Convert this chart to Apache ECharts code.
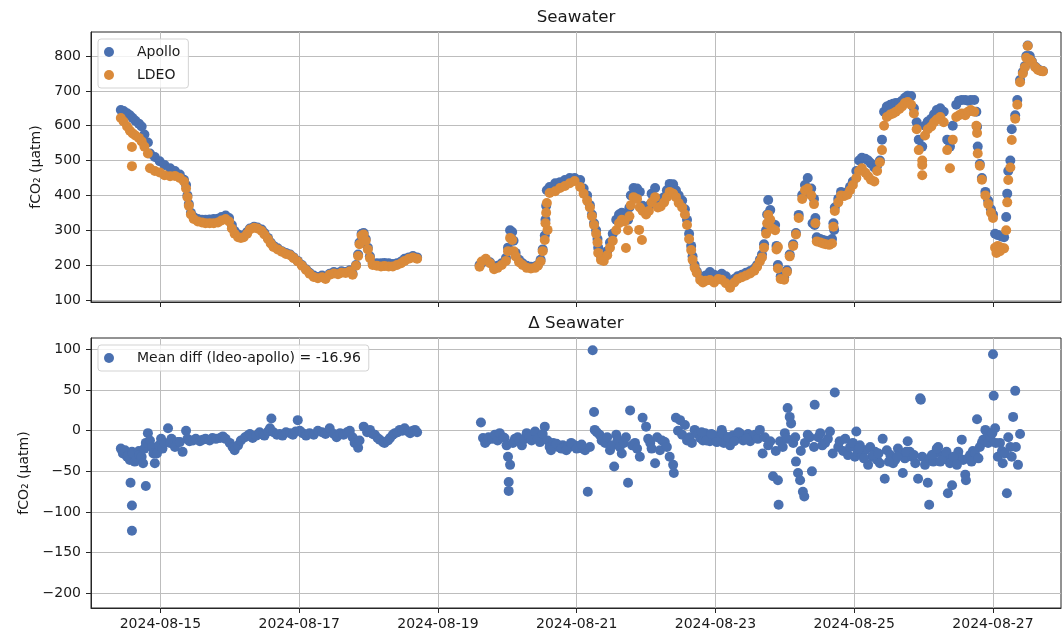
<!DOCTYPE html>
<html><head><meta charset="utf-8">
<script src="https://cdn.jsdelivr.net/npm/echarts@6/dist/echarts.min.js"></script>
<style>html,body{margin:0;padding:0;background:#fff}#c{width:1063px;height:632px}</style>
</head><body><div id="c"></div>
<script>
// time values: days since 2024-08-14 00:00 UTC
const topTimes = [
0.43,0.47,0.52,0.56,0.60,0.64,0.69,0.73,0.77,0.82,
0.85,0.92,0.99,1.06,1.14,1.21,1.28,1.34,1.37,1.39,
1.41,1.44,1.48,1.54,1.60,1.65,1.71,1.77,1.83,1.88,
1.94,1.99,2.03,2.07,2.12,2.16,2.20,2.25,2.29,2.35,
2.40,2.46,2.50,2.55,2.59,2.63,2.69,2.75,2.81,2.87,
2.92,2.98,3.04,3.10,3.15,3.21,3.27,3.33,3.38,3.44,
3.50,3.56,3.61,3.67,3.73,3.77,3.82,3.85,3.87,3.90,
3.93,3.96,3.99,4.02,4.06,4.12,4.18,4.23,4.29,4.35,
4.41,4.47,4.52,4.58,4.64,4.70,
5.60,5.63,5.69,5.75,5.81,5.86,5.92,5.98,6.01,6.04,
6.07,6.09,6.12,6.17,6.22,6.28,6.34,6.40,6.44,6.48,
6.51,6.54,6.57,6.61,6.69,6.76,6.83,6.90,6.97,7.05,
7.10,7.15,7.19,7.22,7.25,7.28,7.31,7.35,7.39,7.44,
7.48,7.52,7.57,7.61,7.65,7.69,7.74,7.78,7.82,7.87,
7.91,7.95,8.00,8.04,8.08,8.13,8.17,8.21,8.26,8.30,
8.34,8.39,8.43,8.47,8.52,8.56,8.59,8.62,8.65,8.67,
8.70,8.73,8.78,8.82,8.86,8.92,8.98,9.04,9.09,9.15,
9.21,9.27,9.32,9.38,9.44,9.50,9.56,9.60,9.64,9.67,
9.70,9.73,9.76,9.79,9.81,9.86,9.90,9.94,9.99,10.03,
10.07,10.12,10.16,10.20,10.25,10.29,10.33,10.38,10.42,10.46,
10.51,10.55,10.59,10.64,10.68,10.72,10.77,10.81,10.85,10.90,
10.94,10.98,11.03,11.07,11.11,11.16,11.20,11.24,11.29,11.33,
11.37,11.40,11.43,11.47,11.52,11.56,11.60,11.65,11.69,11.73,
11.77,11.82,11.86,11.90,11.93,11.98,12.02,12.06,12.11,12.15,
12.19,12.24,12.29,12.34,12.38,12.42,12.47,12.51,12.55,12.60,
12.64,12.68,12.73,12.76,12.77,12.78,12.81,12.84,12.89,12.93,
12.97,13.00,13.03,13.07,13.12,13.16,13.19,13.22,13.25,13.27,
13.32,13.35,13.39,13.43,13.46,13.50,13.53,13.56,13.61,13.65,
13.69,13.72
];
const apolloValues = [
645,642,636,630,622,614,606,598,575,552,
520,510,498,487,478,470,460,445,430,400,
375,350,338,332,330,330,331,332,333,338,
342,335,315,298,288,284,285,295,305,310,
308,302,292,278,265,255,248,240,235,230,
222,212,200,188,178,170,166,170,165,175,
180,178,182,180,185,175,200,230,265,290,
292,275,250,225,205,205,205,206,205,203,
205,210,218,222,226,222,
200,205,215,208,195,198,205,220,250,300,
295,270,235,215,205,198,195,196,200,215,
245,285,415,424,435,438,444,450,450,444,
420,400,372,345,320,300,250,225,222,240,
265,290,330,345,350,348,330,400,421,420,
410,370,355,370,405,421,390,380,395,415,
433,432,415,400,385,360,330,290,255,225,
200,182,168,166,170,180,172,168,175,168,
150,160,168,172,178,183,190,200,215,230,
260,300,387,358,320,315,200,168,165,185,
230,260,292,344,401,430,450,420,390,280,
275,272,270,268,275,365,390,410,405,410,
425,440,470,500,508,505,500,492,480,485,
500,560,640,655,660,663,665,666,672,680,
686,685,650,610,560,540,600,612,620,633,
645,650,640,560,540,600,660,672,674,674,
672,674,674,640,597,540,490,450,410,385,
360,345,290,286,282,280,338,470,500,590,
630,674,731,754,771,830,800,785,769,762,
758,757
];
const ldeoValues = [
622,612,598,586,578,572,565,555,540,520,
478,470,466,458,455,456,450,440,420,395,
370,345,332,325,322,320,320,320,322,328,
332,325,305,290,280,278,280,290,302,307,
305,298,288,275,262,252,245,238,232,228,
220,210,198,186,175,166,162,165,160,172,
176,174,178,177,182,172,198,226,260,285,
288,270,245,220,200,198,196,197,196,196,
200,205,212,218,222,218,
195,210,218,205,188,192,200,212,240,278,
272,240,225,208,200,192,190,192,198,210,
240,272,378,407,412,421,427,435,441,424,
405,385,365,340,315,290,235,215,212,228,
250,270,300,320,330,325,300,372,395,390,
365,355,345,355,380,395,365,368,380,395,
410,405,395,378,365,345,315,275,243,215,
192,178,157,150,155,157,150,160,158,148,
135,150,160,165,170,176,184,195,210,222,
250,290,344,330,306,300,190,160,158,180,
225,255,288,335,390,415,420,400,375,268,
265,262,260,258,262,355,380,400,398,402,
415,430,450,470,478,465,455,445,440,470,
495,530,600,625,632,635,640,648,655,665,
668,660,635,590,530,500,572,590,598,610,
618,625,610,530,478,560,625,630,635,630,
640,645,640,600,579,520,485,445,400,375,
350,335,250,255,250,248,300,444,480,559,
620,660,725,750,768,829,789,783,768,760,
757,756
];
const apolloExtraTimes = [10.40,10.43,10.71,6.55,6.56,7.30,7.76,9.745,9.88,10.44,10.70,13.205,13.48];
const apolloExtraValues = [320,315,301,330,370,275,365,345,255,335,320,405,800];
const ldeoExtraTimes = [0.59,0.59,6.58,7.71,7.90,7.94,9.90,11.98,11.98,13.05,13.10,6.55,6.56,7.30,7.76,9.745,9.88,10.44,10.70,13.205,13.48];
const ldeoExtraValues = [539,484,301,249,301,272,252,487,458,235,240,320,350,265,340,320,245,320,310,380,795];

const diffTimes = [
0.43,0.46,0.49,0.52,0.54,0.56,0.59,0.60,0.63,0.66,
0.69,0.70,0.73,0.75,0.77,0.79,0.82,0.85,0.88,0.90,
0.92,0.95,0.98,1.01,1.03,1.06,1.11,1.14,1.16,1.21,
1.25,1.28,1.32,1.37,1.39,1.42,1.47,1.51,1.57,1.61,
1.65,1.71,1.75,1.80,1.86,1.90,1.94,2.00,2.04,2.07,
2.12,2.16,2.22,2.26,2.29,2.33,2.38,2.43,2.48,2.50,
2.55,2.58,2.60,2.63,2.68,2.72,2.76,2.81,2.87,2.91,
2.95,2.98,3.01,3.05,3.10,3.15,3.21,3.27,3.33,3.38,
3.44,3.50,3.54,3.59,3.64,3.69,3.73,3.77,3.80,3.85,
3.87,3.93,3.98,4.02,4.06,4.09,4.13,4.16,4.21,4.23,
4.28,4.31,4.35,4.38,4.42,4.45,4.49,4.52,4.57,4.60,
4.64,4.67,4.70,0.57,0.59,0.59,0.79,
5.62,5.65,5.68,5.71,5.73,5.78,5.82,5.86,5.89,5.94,
5.96,5.99,6.01,6.04,6.02,6.02,6.08,6.11,6.15,6.18,
6.21,6.25,6.28,6.32,6.35,6.40,6.44,6.47,6.51,6.54,
6.58,6.61,6.66,6.69,6.73,6.76,6.80,6.83,6.87,6.90,
6.94,6.97,7.02,7.05,7.09,7.12,7.16,7.19,7.23,7.25,
7.26,7.29,7.33,7.36,7.41,7.44,7.48,7.51,7.54,7.57,
7.59,7.62,7.65,7.68,7.71,7.74,7.77,7.80,7.84,7.87,
7.91,7.95,8.00,8.03,8.06,8.08,8.13,8.16,8.20,8.23,
8.27,8.30,8.34,8.39,8.40,8.43,8.46,8.49,8.52,8.56,
8.59,8.63,8.66,8.70,8.75,8.78,8.82,8.85,8.89,8.92,
8.96,9.01,9.05,9.09,9.12,9.17,9.21,9.25,9.30,9.35,
9.40,9.42,9.47,9.50,9.54,9.57,9.61,9.64,9.68,9.71,
9.76,9.79,9.83,9.87,9.90,9.91,9.93,9.97,10.00,10.03,
10.04,10.07,10.09,10.12,10.15,10.16,10.19,10.22,10.23,10.26,
10.28,10.29,10.33,10.36,10.39,10.42,10.43,10.48,10.51,10.54,
10.58,10.62,10.65,10.69,10.72,10.77,10.79,10.84,10.87,10.91,
10.94,10.98,11.01,11.03,11.05,11.08,11.11,11.16,11.20,11.23,
11.26,11.30,11.33,11.37,11.41,11.44,11.47,11.52,11.56,11.59,
11.63,11.66,11.70,11.73,11.77,11.80,11.83,11.88,11.92,11.95,
11.96,11.98,12.02,12.06,12.08,12.09,12.14,12.16,12.21,12.24,
12.28,12.31,12.35,12.38,12.41,12.45,12.50,12.52,12.55,12.57,
12.60,12.61,12.64,12.67,12.71,12.74,12.77,12.81,12.84,12.86,
12.89,12.91,12.93,12.96,12.99,13.00,13.01,13.03,13.04,13.07,
13.10,13.13,13.14,13.17,13.20,13.22,13.25,13.27,13.29,13.32,
13.33,13.36,13.39,
6.63,6.71,6.78,6.85,6.92,7.00,7.07,8.80,8.87,8.94,9.02,9.10,9.18,9.27,9.33,9.45,
11.07,11.14,11.28,11.35,11.50,11.62,11.75,11.86,12.12,12.19,12.26,12.33,12.43,12.48,12.69,12.79
];
const diffValues = [
-22,-28,-24,-32,-30,-36,-26,-28,-38,-34,
-25,-30,-32,-40,-22,-15,-3,-12,-20,-28,
-40,-28,-18,-10,-22,-15,3,-15,-10,-20,
-14,-14,-26,0,-10,-13,-12,-10,-13,-11,
-10,-12,-9,-10,-9,-7,-10,-15,-20,-24,
-18,-12,-8,-6,-4,-9,-6,-2,-5,-6,
-1,3,15,-2,-5,-4,-6,-2,-3,-5,
-1,13,0,-3,-6,-3,-5,0,-2,-4,
3,-4,-8,-3,-5,-2,0,-8,-15,-21,
-12,5,-2,1,-4,-5,-9,-11,-14,-15,
-12,-9,-5,-3,-2,1,0,3,-1,-3,
0,1,-2,-64,-92,-123,-68,
10,-9,-15,-12,-8,-10,-5,-12,-3,-8,
-9,-18,-32,-42,-63,-74,-15,-10,-8,-12,
-18,-10,-3,-8,-12,-1,-10,-14,-4,5,
-12,-20,-15,-18,-20,-20,-18,-21,-19,-20,
-17,-18,-19,-20,-22,-24,-75,-20,99,23,
1,-2,-5,-12,-15,-8,-24,-18,-44,-5,
-11,-20,-28,-15,-8,-64,25,-18,-15,-22,
-32,16,5,-10,-15,-22,-40,-8,-24,-12,
-14,-20,-32,-42,-52,16,0,13,-5,7,
-12,-8,-15,1,-4,-9,-12,-3,-8,-13,
-5,-10,-6,1,-15,-8,-18,-6,-10,-3,
-12,-8,-4,-13,-7,-5,-10,1,-28,-8,
-18,-13,-56,-25,-61,-91,-13,-20,-3,-10,
28,17,9,-15,-8,-38,-52,-61,-25,-75,
-81,-15,-5,-8,-50,-20,32,-8,-3,-18,
-15,-10,-1,-28,47,-20,-13,-25,-10,-30,
-20,-15,-32,-1,-26,-18,-30,-24,-42,-20,
-32,-26,-36,-40,-10,-59,-24,-30,-40,-36,
-22,-28,-52,-34,-13,-26,-32,-40,-59,40,
38,-32,-42,-64,-91,-34,-38,-28,-20,-38,
-30,-32,-77,-40,-67,-38,-26,-34,-11,-36,
-54,-61,-34,-30,-25,-28,14,-20,-15,-11,
1,-8,-15,-8,-3,94,43,3,-15,-32,
-15,-25,-40,-28,-77,-8,-20,-32,17,49,
-20,-42,-4,
-24,-16,-22,-24,-15,-22,-17,-2,-12,-4,-14,-3,-8,-13,-2,-10,
-22,-34,-30,-28,-38,-32,-26,-30,-30,-22,-36,-26,-32,-42,-38,-34
];

const xTickDays = [1, 3, 5, 7, 9, 11, 13];
const topTicksY = [100, 200, 300, 400, 500, 600, 700, 800];
const bottomTicksY = [-200, -150, -100, -50, 0, 50, 100];
const topRangeY = [94, 869];
const bottomRangeY = [-218, 114];
const xRangeDays = [0, 13.98];

const DAY = 86400000;
const BASE = Date.UTC(2024, 7, 14);
const toMs = t => BASE + Math.round(t * DAY);
const pairs = (ts, vs) => ts.map((t, i) => [toMs(t), vs[i]]);

const FONT = 'DejaVu Sans';
const TXT = '#1a1a1a';
const BLUE = '#4a70b0';
const ORANGE = '#da8a3a';
const GRIDC = '#bdbdbd';
const FRAME = '#262626';
const pad = n => (n < 10 ? '0' : '') + n;
const fmtDate = v => { const d = new Date(v); return d.getUTCFullYear() + '-' + pad(d.getUTCMonth() + 1) + '-' + pad(d.getUTCDate()); };
const fmtNum = v => v < 0 ? '\u2212' + Math.abs(v) : String(v);

function xAxis(idx, showLabels) {
  const ticks = xTickDays.map(toMs);
  return {
    type: 'value', gridIndex: idx, min: toMs(xRangeDays[0]), max: toMs(xRangeDays[1]),
    axisLine: { show: true, onZero: false, lineStyle: { color: FRAME, width: 1 } },
    axisTick: { show: true, inside: false, length: 5, customValues: ticks, lineStyle: { color: FRAME, width: 1 } },
    axisLabel: { show: showLabels, margin: 9, fontSize: 14, fontFamily: FONT, color: TXT, formatter: fmtDate, customValues: ticks },
    splitLine: { show: true, lineStyle: { color: GRIDC, width: 1 } }
  };
}
function yAxis(idx, range, ticks, gap) {
  return {
    type: 'value', gridIndex: idx, min: range[0], max: range[1],
    axisLine: { show: true, onZero: false, lineStyle: { color: FRAME, width: 1 } },
    axisTick: { show: true, inside: false, length: 5, customValues: ticks, lineStyle: { color: FRAME, width: 1 } },
    axisLabel: { margin: 10, fontSize: 14, fontFamily: FONT, color: TXT, formatter: fmtNum, customValues: ticks },
    splitLine: { show: true, lineStyle: { color: GRIDC, width: 1 } },
    name: 'fCO\u2082 (\u03bcatm)', nameLocation: 'middle', nameRotate: 90, nameGap: gap,
    nameTextStyle: { fontSize: 14, fontFamily: FONT, color: TXT }
  };
}
const legendCommon = {
  orient: 'vertical', icon: 'circle', itemWidth: 28, itemHeight: 10, itemGap: 7,
  padding: [5, 8, 5, 6], backgroundColor: 'rgba(255,255,255,0.8)', borderColor: '#d3d3d3', borderWidth: 1, borderRadius: 3,
  selectedMode: false,
  textStyle: { fontSize: 14, fontFamily: FONT, color: TXT, lineHeight: 16, padding: [0, 0, 0, 9] }
};
const diffName = 'Mean diff (ldeo-apollo) = -16.96';

const chart = echarts.init(document.getElementById('c'), null, { renderer: 'canvas' });
chart.setOption({
  animation: false,
  backgroundColor: '#ffffff',
  grid: [
    { left: 91, top: 32, width: 970, height: 270, show: true, borderColor: FRAME, borderWidth: 1, containLabel: false, outerBoundsMode: 'none' },
    { left: 91, top: 338, width: 970, height: 270, show: true, borderColor: FRAME, borderWidth: 1, containLabel: false, outerBoundsMode: 'none' }
  ],
  xAxis: [xAxis(0, false), xAxis(1, true)],
  yAxis: [yAxis(0, topRangeY, topTicksY, 45), yAxis(1, bottomRangeY, bottomTicksY, 56)],
  legend: [
    Object.assign({}, legendCommon, { data: ['Apollo', 'LDEO'], left: 98, top: 39 }),
    Object.assign({}, legendCommon, { data: [diffName], left: 98, top: 345 })
  ],
  graphic: [
    { type: 'text', x: 576, y: 18, style: { text: 'Seawater', font: '16.7px "DejaVu Sans"', fill: TXT, align: 'center', verticalAlign: 'middle' } },
    { type: 'text', x: 576, y: 324, style: { text: '\u0394 Seawater', font: '16.7px "DejaVu Sans"', fill: TXT, align: 'center', verticalAlign: 'middle' } }
  ],
  series: [
    { type: 'scatter', name: 'Apollo', xAxisIndex: 0, yAxisIndex: 0, symbolSize: 10, itemStyle: { color: BLUE, opacity: 1 }, emphasis: { disabled: true },
      data: pairs(topTimes, apolloValues).concat(pairs(apolloExtraTimes, apolloExtraValues)) },
    { type: 'scatter', name: 'LDEO', xAxisIndex: 0, yAxisIndex: 0, symbolSize: 10, itemStyle: { color: ORANGE, opacity: 1 }, emphasis: { disabled: true },
      data: pairs(topTimes, ldeoValues).concat(pairs(ldeoExtraTimes, ldeoExtraValues)) },
    { type: 'scatter', name: diffName, xAxisIndex: 1, yAxisIndex: 1, symbolSize: 10, itemStyle: { color: BLUE, opacity: 1 }, emphasis: { disabled: true },
      data: pairs(diffTimes, diffValues) }
  ]
});
</script></body></html>
